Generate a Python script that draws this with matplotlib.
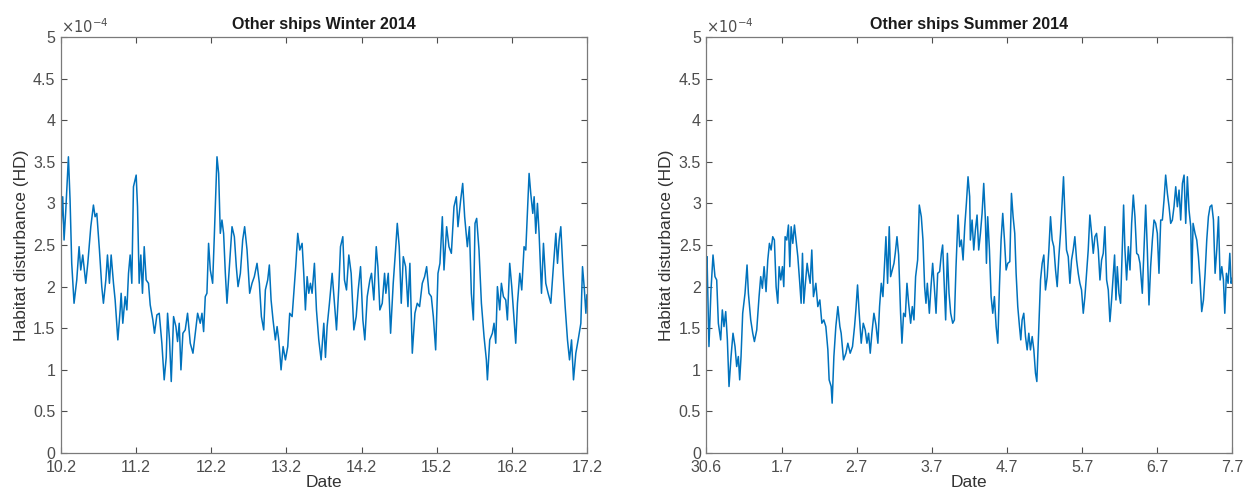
import numpy as np
import matplotlib
matplotlib.use("Agg")
from matplotlib import pyplot as plt
from matplotlib.ticker import FuncFormatter

plt.rcParams['font.family'] = ['Liberation Sans', 'DejaVu Sans']

# elapsed days since first tick, HD in units of 1e-4
winter_t = [0.000, 0.022, 0.040, 0.062, 0.098, 0.120, 0.142, 0.173, 0.209, 0.240,
            0.262, 0.289, 0.329, 0.356, 0.396, 0.431, 0.453, 0.476, 0.511, 0.542,
            0.564, 0.596, 0.618, 0.644, 0.667, 0.698, 0.720, 0.756, 0.787, 0.800,
            0.822, 0.853, 0.876, 0.898, 0.920, 0.942, 0.964, 1.000, 1.018, 1.040,
            1.062, 1.084, 1.107, 1.133, 1.164, 1.187, 1.222, 1.244, 1.276, 1.307,
            1.342, 1.373, 1.400, 1.418, 1.444, 1.467, 1.498, 1.529, 1.551, 1.573,
            1.596, 1.622, 1.653, 1.684, 1.720, 1.756, 1.787, 1.818, 1.853, 1.876,
            1.898, 1.920, 1.942, 1.964, 1.987, 2.018, 2.040, 2.076, 2.098, 2.120,
            2.142, 2.164, 2.187, 2.209, 2.244, 2.276, 2.307, 2.333, 2.356, 2.387,
            2.418, 2.444, 2.476, 2.511, 2.542, 2.573, 2.609, 2.640, 2.667, 2.698,
            2.720, 2.751, 2.773, 2.796, 2.822, 2.853, 2.876, 2.898, 2.929, 2.956,
            2.987, 3.018, 3.044, 3.076, 3.098, 3.124, 3.151, 3.178, 3.209, 3.231,
            3.253, 3.276, 3.298, 3.320, 3.342, 3.373, 3.400, 3.431, 3.462, 3.498,
            3.520, 3.542, 3.573, 3.609, 3.640, 3.667, 3.698, 3.720, 3.751, 3.773,
            3.800, 3.831, 3.862, 3.898, 3.929, 3.956, 3.987, 4.018, 4.044, 4.076,
            4.111, 4.133, 4.164, 4.196, 4.218, 4.244, 4.276, 4.307, 4.324, 4.356,
            4.387, 4.422, 4.453, 4.476, 4.502, 4.529, 4.556, 4.587, 4.618, 4.644,
            4.676, 4.711, 4.742, 4.773, 4.809, 4.840, 4.867, 4.898, 4.929, 4.956,
            4.987, 5.018, 5.044, 5.076, 5.098, 5.133, 5.164, 5.196, 5.231, 5.262,
            5.284, 5.320, 5.347, 5.373, 5.409, 5.436, 5.462, 5.489, 5.511, 5.533,
            5.564, 5.596, 5.631, 5.662, 5.676, 5.707, 5.742, 5.764, 5.787, 5.809,
            5.840, 5.862, 5.889, 5.920, 5.942, 5.973, 6.000, 6.031, 6.053, 6.076,
            6.107, 6.133, 6.164, 6.187, 6.200, 6.231, 6.253, 6.280, 6.298, 6.320,
            6.342, 6.364, 6.396, 6.422, 6.453, 6.484, 6.520, 6.551, 6.587, 6.609,
            6.631, 6.653, 6.684, 6.711, 6.742, 6.769, 6.796, 6.822, 6.853, 6.884,
            6.920, 6.942, 6.964, 6.987, 7.000]
winter_hd = [2.70, 3.08, 2.56, 2.90, 3.56, 3.04, 2.28, 1.80, 2.08, 2.48,
             2.20, 2.38, 2.04, 2.28, 2.72, 2.98, 2.84, 2.88, 2.44, 2.00,
             1.80, 2.08, 2.38, 2.04, 2.38, 2.04, 1.84, 1.36, 1.72, 1.92,
             1.56, 1.88, 1.72, 2.16, 2.38, 2.04, 3.20, 3.34, 2.96, 2.04,
             2.38, 1.92, 2.48, 2.08, 2.04, 1.78, 1.60, 1.44, 1.66, 1.68,
             1.32, 0.88, 1.15, 1.68, 1.36, 0.86, 1.64, 1.52, 1.34, 1.56,
             1.00, 1.44, 1.48, 1.68, 1.32, 1.20, 1.44, 1.68, 1.56, 1.68,
             1.46, 1.88, 1.92, 2.52, 2.20, 2.04, 2.60, 3.56, 3.36, 2.64,
             2.80, 2.64, 2.16, 1.80, 2.28, 2.72, 2.60, 2.24, 2.00, 2.16,
             2.56, 2.72, 2.44, 1.92, 2.04, 2.12, 2.28, 2.04, 1.64, 1.48,
             1.96, 2.08, 2.26, 1.84, 1.60, 1.36, 1.52, 1.36, 1.00, 1.28,
             1.12, 1.28, 1.68, 1.64, 1.92, 2.24, 2.64, 2.44, 2.52, 2.16,
             1.72, 2.12, 1.92, 2.04, 1.92, 2.28, 1.72, 1.36, 1.12, 1.56,
             1.15, 1.52, 1.80, 2.16, 1.80, 1.48, 2.00, 2.48, 2.60, 2.08,
             1.96, 2.38, 2.16, 1.48, 1.64, 1.96, 2.24, 1.60, 1.36, 1.88,
             2.08, 2.16, 1.84, 2.48, 2.24, 1.72, 1.80, 2.16, 1.92, 2.16,
             1.44, 2.04, 2.44, 2.76, 2.48, 1.80, 2.36, 2.24, 1.76, 2.28,
             1.20, 1.68, 1.80, 1.76, 2.04, 2.12, 2.24, 1.92, 1.88, 1.64,
             1.24, 2.16, 2.28, 2.84, 2.20, 2.72, 2.48, 2.40, 2.96, 3.08,
             2.72, 3.04, 3.24, 2.84, 2.48, 2.72, 1.92, 1.60, 2.76, 2.82,
             2.44, 1.80, 1.40, 1.12, 0.88, 1.36, 1.44, 1.56, 1.32, 2.00,
             1.72, 2.04, 1.88, 1.84, 1.60, 2.28, 2.00, 1.60, 1.32, 1.80,
             2.16, 1.96, 2.48, 2.44, 2.72, 3.36, 3.12, 2.88, 3.08, 2.64,
             3.00, 2.64, 1.92, 2.52, 2.04, 1.92, 1.80, 2.20, 2.64, 2.28,
             2.56, 2.72, 2.16, 1.76, 1.36, 1.12, 1.36, 0.88, 1.20, 1.36,
             1.56, 2.24, 2.00, 1.68, 1.90]

summer_t = [0.000, 0.007, 0.033, 0.060, 0.087, 0.113, 0.136, 0.158, 0.189, 0.211,
            0.233, 0.256, 0.278, 0.300, 0.327, 0.353, 0.380, 0.402, 0.424, 0.442,
            0.460, 0.482, 0.513, 0.540, 0.558, 0.589, 0.616, 0.638, 0.669, 0.700,
            0.722, 0.744, 0.767, 0.793, 0.816, 0.838, 0.860, 0.882, 0.904, 0.927,
            0.949, 0.967, 0.989, 1.011, 1.029, 1.047, 1.069, 1.091, 1.109, 1.127,
            1.149, 1.171, 1.193, 1.216, 1.242, 1.260, 1.278, 1.296, 1.313, 1.340,
            1.358, 1.380, 1.402, 1.424, 1.456, 1.482, 1.509, 1.536, 1.562, 1.589,
            1.616, 1.633, 1.660, 1.673, 1.696, 1.722, 1.749, 1.776, 1.793, 1.824,
            1.856, 1.882, 1.913, 1.944, 1.971, 1.989, 2.011, 2.033, 2.060, 2.087,
            2.113, 2.136, 2.158, 2.180, 2.202, 2.229, 2.256, 2.282, 2.304, 2.327,
            2.349, 2.371, 2.389, 2.411, 2.433, 2.451, 2.473, 2.496, 2.513, 2.536,
            2.558, 2.584, 2.602, 2.624, 2.647, 2.669, 2.691, 2.718, 2.740, 2.762,
            2.784, 2.811, 2.833, 2.860, 2.882, 2.904, 2.922, 2.940, 2.967, 2.989,
            3.011, 3.033, 3.056, 3.078, 3.104, 3.127, 3.144, 3.167, 3.184, 3.207,
            3.229, 3.251, 3.278, 3.300, 3.322, 3.349, 3.371, 3.393, 3.416, 3.438,
            3.460, 3.482, 3.504, 3.513, 3.536, 3.558, 3.580, 3.602, 3.624, 3.647,
            3.669, 3.691, 3.713, 3.727, 3.744, 3.767, 3.789, 3.811, 3.833, 3.856,
            3.878, 3.900, 3.922, 3.944, 3.967, 3.989, 4.011, 4.038, 4.060, 4.082,
            4.104, 4.122, 4.144, 4.167, 4.184, 4.202, 4.224, 4.247, 4.269, 4.291,
            4.313, 4.336, 4.358, 4.380, 4.398, 4.424, 4.447, 4.469, 4.491, 4.513,
            4.536, 4.558, 4.580, 4.602, 4.624, 4.647, 4.669, 4.691, 4.713, 4.736,
            4.753, 4.771, 4.793, 4.816, 4.838, 4.860, 4.882, 4.904, 4.927, 4.949,
            4.971, 4.993, 5.016, 5.038, 5.060, 5.082, 5.104, 5.127, 5.149, 5.171,
            5.193, 5.216, 5.238, 5.260, 5.282, 5.304, 5.327, 5.349, 5.371, 5.393,
            5.416, 5.433, 5.451, 5.469, 5.491, 5.513, 5.536, 5.553, 5.571, 5.593,
            5.616, 5.638, 5.660, 5.682, 5.704, 5.727, 5.749, 5.771, 5.802, 5.824,
            5.847, 5.869, 5.891, 5.913, 5.936, 5.958, 5.980, 6.002, 6.024, 6.047,
            6.069, 6.091, 6.113, 6.136, 6.158, 6.180, 6.202, 6.224, 6.247, 6.269,
            6.291, 6.313, 6.336, 6.358, 6.380, 6.402, 6.424, 6.447, 6.460, 6.478,
            6.504, 6.527, 6.549, 6.571, 6.593, 6.616, 6.638, 6.660, 6.682, 6.704,
            6.727, 6.749, 6.771, 6.793, 6.816, 6.838, 6.860, 6.882, 6.900, 6.922,
            6.944, 6.967, 6.984, 7.000]
summer_hd = [1.96, 2.36, 1.28, 1.96, 2.38, 2.12, 2.08, 1.56, 1.36, 1.72,
             1.52, 1.70, 1.36, 0.80, 1.16, 1.44, 1.28, 1.04, 1.16, 0.88,
             1.16, 1.68, 1.92, 2.26, 1.92, 1.60, 1.44, 1.34, 1.48, 1.88,
             2.12, 1.98, 2.24, 1.94, 2.32, 2.52, 2.44, 2.60, 2.56, 2.00,
             1.80, 2.24, 2.08, 2.24, 2.00, 2.60, 2.56, 2.74, 2.24, 2.72,
             2.52, 2.74, 2.56, 2.36, 2.04, 1.80, 2.40, 1.80, 2.00, 2.28,
             2.16, 2.04, 2.44, 1.88, 2.04, 1.76, 1.84, 1.56, 1.60, 1.52,
             1.24, 0.88, 0.80, 0.60, 1.16, 1.52, 1.76, 1.52, 1.44, 1.12,
             1.20, 1.32, 1.20, 1.28, 1.52, 1.72, 2.02, 1.68, 1.32, 1.56,
             1.48, 1.32, 1.44, 1.20, 1.44, 1.68, 1.54, 1.32, 1.76, 2.04,
             1.88, 2.28, 2.60, 2.04, 2.72, 2.12, 2.20, 2.28, 2.40, 2.60,
             2.38, 1.68, 1.32, 1.68, 1.64, 2.04, 1.80, 1.56, 1.76, 1.60,
             2.12, 2.32, 2.98, 2.84, 2.56, 2.00, 1.80, 2.04, 1.68, 2.00,
             2.28, 2.00, 1.68, 2.16, 2.18, 2.40, 2.50, 2.00, 1.60, 2.40,
             1.92, 1.68, 1.56, 1.60, 2.24, 2.86, 2.48, 2.56, 2.32, 2.72,
             3.00, 3.32, 3.08, 2.56, 2.80, 2.44, 2.68, 2.86, 2.44, 2.64,
             2.88, 3.24, 2.80, 2.28, 2.84, 2.44, 1.88, 1.68, 1.88, 1.52,
             1.32, 2.00, 2.56, 2.88, 2.56, 2.20, 2.28, 2.30, 3.12, 2.84,
             2.64, 2.16, 1.76, 1.52, 1.36, 1.60, 1.68, 1.40, 1.24, 1.44,
             1.24, 1.40, 1.24, 0.96, 0.86, 1.52, 2.08, 2.28, 2.38, 1.96,
             2.12, 2.44, 2.84, 2.56, 2.48, 2.20, 2.00, 2.36, 2.64, 3.04,
             3.32, 2.88, 2.44, 2.36, 2.04, 2.32, 2.44, 2.60, 2.32, 2.16,
             2.04, 1.96, 1.68, 1.88, 2.16, 2.44, 2.86, 2.64, 2.40, 2.60,
             2.64, 2.44, 2.08, 2.32, 2.40, 2.72, 2.08, 1.96, 1.58, 1.84,
             2.16, 2.38, 1.84, 2.24, 1.92, 1.80, 2.48, 2.98, 2.44, 2.08,
             2.48, 2.20, 2.76, 3.10, 2.84, 2.40, 2.38, 2.28, 1.92, 2.44,
             2.98, 2.44, 1.78, 2.24, 2.56, 2.80, 2.76, 2.64, 2.16, 2.80,
             2.80, 3.04, 3.34, 3.12, 2.96, 2.76, 2.80, 2.96, 3.20, 2.96,
             3.16, 2.80, 3.24, 3.34, 2.76, 3.32, 2.92, 2.72, 2.04, 2.76,
             2.64, 2.56, 2.36, 2.08, 1.70, 1.84, 2.16, 2.56, 2.84, 2.96,
             2.98, 2.80, 2.16, 2.44, 2.84, 2.08, 2.24, 2.08, 1.68, 2.16,
             2.04, 2.40, 2.04, 2.10]

winter_labels = ['10.2', '11.2', '12.2', '13.2', '14.2', '15.2', '16.2', '17.2']
summer_labels = ['30.6', '1.7', '2.7', '3.7', '4.7', '5.7', '6.7', '7.7']
titles = ['Other ships Winter 2014', 'Other ships Summer 2014']

fig = plt.figure(figsize=(12.46, 4.99), dpi=100)
ax1 = fig.add_axes([0.049, 0.092, 0.422, 0.834])
ax2 = fig.add_axes([0.567, 0.092, 0.422, 0.834])

gray = '#4d4d4d'
for ax, t, hd, labels, title in [(ax1, winter_t, winter_hd, winter_labels, titles[0]),
                                  (ax2, summer_t, summer_hd, summer_labels, titles[1])]:
    ax.plot(t, np.array(hd) * 1e-4, color='#0072BD', lw=1.1)
    ax.set_xlim(0, 7)
    ax.set_ylim(0, 5e-4)
    ax.set_xticks(range(8))
    ax.set_xticklabels(labels)
    ax.set_yticks(np.arange(0, 5.01, 0.5) * 1e-4)
    ax.yaxis.set_major_formatter(FuncFormatter(lambda v, _: '%g' % round(v * 1e4, 2)))
    ax.tick_params(direction='in', top=True, right=True, length=4, width=0.8,
                   labelsize=11.5, colors=gray)
    ax.tick_params(axis='x', pad=5)
    ax.tick_params(axis='y', pad=4)
    for s in ax.spines.values():
        s.set_color('#7a7a7a')
        s.set_linewidth(0.9)
    ax.set_title(title, fontsize=11.5, fontweight='bold', color='#1a1a1a', pad=6)
    ax.set_xlabel('Date', fontsize=12.5, color='#333333', labelpad=0)
    ax.set_ylabel('Habitat disturbance (HD)', fontsize=12.5, color='#333333', labelpad=3)
    ax.text(0.0, 1.003, r'$\times10^{-4}$', transform=ax.transAxes, ha='left', va='bottom',
            fontsize=10.5, color=gray)

fig.savefig('out.png', dpi=100)
